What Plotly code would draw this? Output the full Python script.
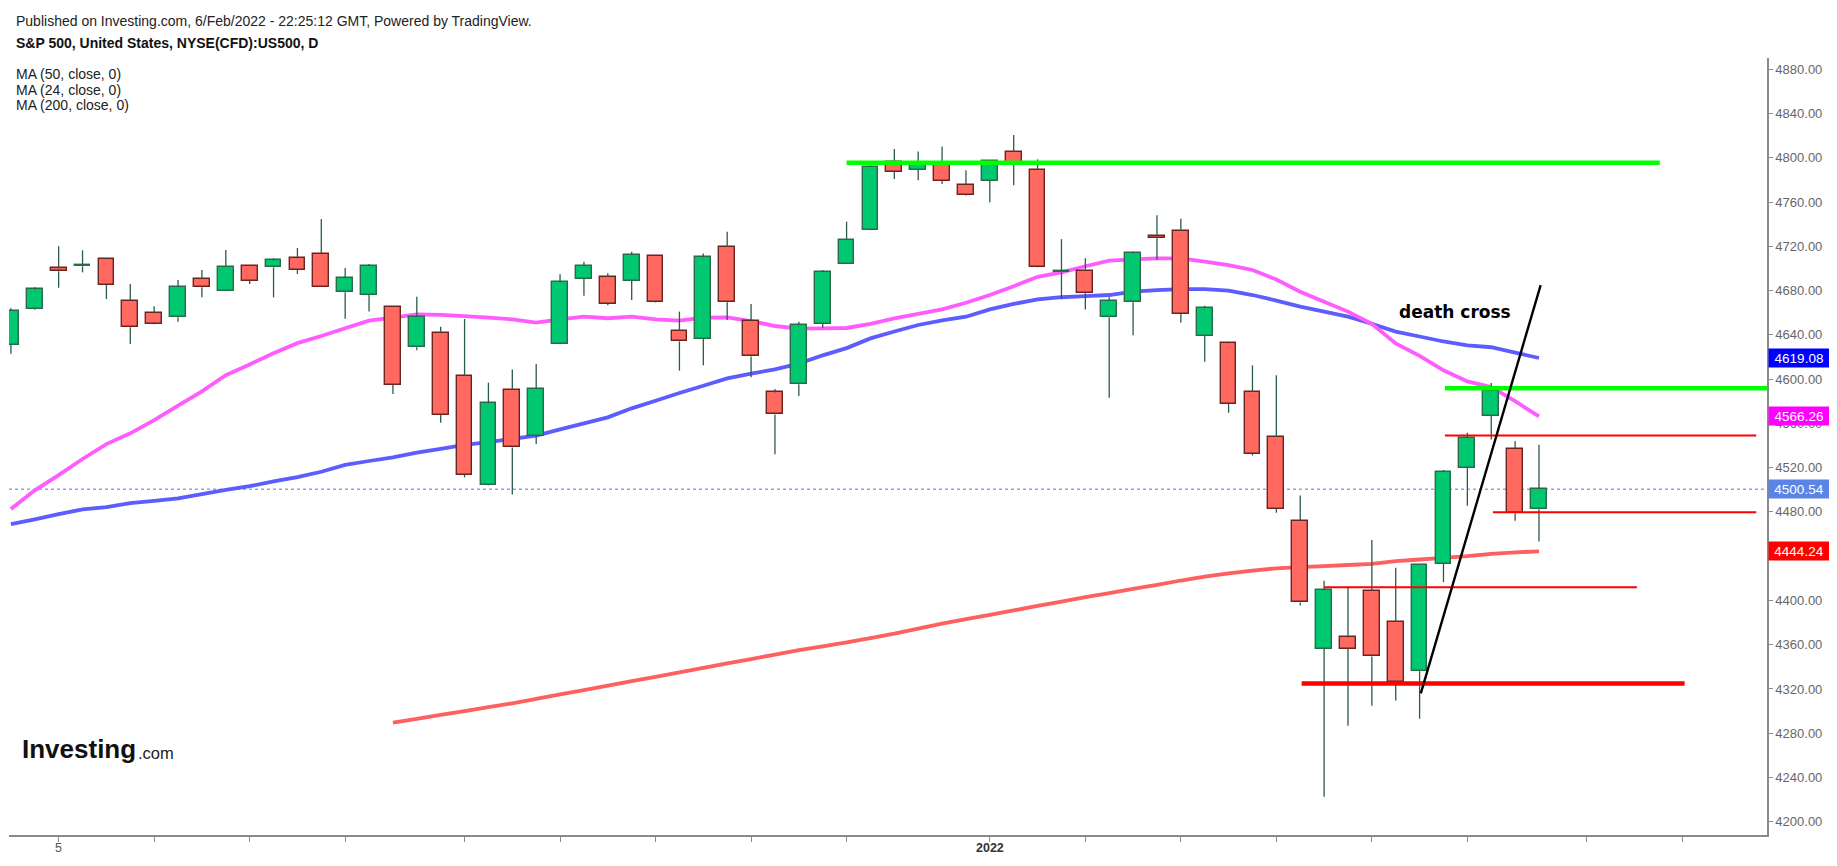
import plotly.graph_objects as go

# ---------------- data ----------------
idx = list(range(65))  # trading days, 3 Nov 2021 .. 4 Feb 2022

opens = [4631.0, 4663.6, 4700.0, 4702.0, 4708.2, 4670.9, 4659.4, 4655.8, 4690.2, 4679.6,
         4702.2, 4701.0, 4709.2, 4712.8, 4678.4, 4676.0, 4665.2, 4628.7, 4641.4, 4603.0,
         4504.3, 4590.5, 4548.3, 4632.0, 4690.8, 4692.3, 4688.7, 4711.3, 4643.5, 4636.5,
         4719.4, 4652.8, 4588.0, 4595.3, 4650.1, 4704.3, 4735.0, 4795.9, 4789.3, 4795.0,
         4775.7, 4779.3, 4805.0, 4789.3, 4696.5, 4697.7, 4655.8, 4669.4, 4729.6, 4733.9,
         4638.9, 4632.3, 4588.3, 4547.7, 4471.7, 4356.3, 4366.6, 4408.5, 4380.4, 4336.1,
         4433.1, 4520.0, 4567.0, 4537.1, 4482.3]
highs = [4664.0, 4683.0, 4720.0, 4716.4, 4709.2, 4686.0, 4665.8, 4689.6, 4698.6, 4716.7,
         4702.8, 4709.2, 4718.5, 4744.7, 4700.4, 4704.0, 4665.5, 4674.5, 4647.4, 4654.3,
         4596.8, 4608.8, 4613.6, 4694.7, 4706.1, 4695.6, 4715.2, 4712.0, 4661.0, 4713.6,
         4733.2, 4667.9, 4591.0, 4651.9, 4698.6, 4742.3, 4793.0, 4808.0, 4805.6, 4810.1,
         4788.7, 4797.5, 4820.6, 4798.6, 4726.5, 4709.2, 4673.9, 4715.2, 4748.0, 4745.0,
         4666.4, 4632.8, 4612.4, 4603.4, 4494.9, 4417.8, 4411.2, 4454.5, 4429.5, 4432.5,
         4517.9, 4551.5, 4596.4, 4544.0, 4540.7]
lows = [4623.0, 4662.7, 4682.6, 4696.5, 4672.4, 4631.7, 4649.5, 4651.9, 4673.9, 4679.3,
        4686.0, 4673.9, 4695.0, 4683.0, 4654.6, 4661.0, 4586.5, 4626.0, 4560.6, 4511.2,
        4504.0, 4495.8, 4541.3, 4631.5, 4675.4, 4666.7, 4671.5, 4669.0, 4607.6, 4612.5,
        4653.4, 4601.6, 4532.0, 4584.7, 4646.5, 4704.0, 4734.5, 4780.9, 4779.7, 4776.3,
        4766.0, 4759.8, 4775.1, 4701.0, 4672.5, 4663.0, 4583.2, 4639.6, 4707.6, 4651.0,
        4615.8, 4569.6, 4531.0, 4479.3, 4395.5, 4222.5, 4286.7, 4304.8, 4309.6, 4293.1,
        4416.6, 4485.5, 4545.5, 4472.0, 4453.2]
closes = [4661.5, 4681.0, 4697.4, 4702.6, 4685.0, 4646.8, 4649.8, 4683.2, 4683.0, 4701.3,
          4688.7, 4707.3, 4698.9, 4683.0, 4691.1, 4702.2, 4595.0, 4656.1, 4567.5, 4513.3,
          4578.1, 4538.3, 4591.3, 4687.5, 4702.2, 4668.2, 4712.5, 4669.4, 4634.1, 4710.2,
          4669.4, 4620.5, 4568.1, 4648.9, 4696.5, 4726.0, 4791.7, 4787.2, 4793.8, 4779.0,
          4766.4, 4797.1, 4793.8, 4701.3, 4698.0, 4677.5, 4670.9, 4713.7, 4727.2, 4659.1,
          4664.0, 4577.8, 4532.6, 4482.9, 4398.2, 4409.4, 4356.3, 4349.4, 4325.9, 4432.3,
          4516.4, 4547.0, 4589.5, 4478.7, 4500.54]

ma24 = [4482.6, 4499.5, 4513.3, 4527.8, 4541.3, 4551.0, 4563.0, 4576.0, 4589.0, 4603.5,
        4613.3, 4623.3, 4632.5, 4639.0, 4646.0, 4652.8, 4655.5, 4658.5, 4658.0, 4657.0,
        4655.5, 4654.0, 4651.0, 4654.0, 4656.4, 4655.0, 4656.4, 4654.0, 4652.8, 4655.5,
        4655.8, 4652.5, 4648.0, 4645.6, 4645.8, 4646.2, 4650.0, 4654.9, 4659.0, 4663.0,
        4669.0, 4676.0, 4684.0, 4692.5, 4696.5, 4702.0, 4707.0, 4708.2, 4709.1, 4709.1,
        4706.1, 4703.0, 4698.6, 4690.0, 4679.0, 4670.0, 4661.0, 4650.0, 4632.3, 4621.0,
        4608.0, 4597.9, 4592.8, 4580.0, 4566.26]
ma50 = [4469.0, 4473.3, 4478.0, 4482.3, 4484.4, 4488.0, 4490.0, 4492.2, 4496.0, 4499.8,
        4503.2, 4507.5, 4511.5, 4516.3, 4522.4, 4526.0, 4529.3, 4533.5, 4537.0, 4540.5,
        4543.0, 4546.0, 4549.0, 4554.5, 4560.0, 4565.4, 4573.6, 4580.5, 4587.5, 4594.0,
        4600.7, 4605.0, 4608.8, 4614.0, 4621.5, 4628.0, 4636.8, 4643.0, 4648.9, 4653.0,
        4656.4, 4663.0, 4668.0, 4672.0, 4674.0, 4675.0, 4676.0, 4679.0, 4680.5, 4681.4,
        4681.4, 4679.9, 4676.0, 4671.0, 4665.5, 4661.0, 4656.4, 4650.0, 4642.9, 4638.5,
        4634.0, 4630.5, 4628.8, 4624.0, 4619.08]
ma200 = [None] * 16 + [
        4289.5, 4293.0, 4296.5, 4300.0, 4303.5, 4307.0, 4311.0, 4315.0, 4319.0, 4323.0,
        4327.0, 4331.0, 4335.0, 4339.0, 4343.0, 4347.0, 4351.0, 4355.0, 4358.5, 4362.0,
        4366.0, 4370.0, 4374.5, 4379.0, 4383.0, 4387.0, 4391.0, 4395.0, 4399.0, 4403.0,
        4406.5, 4410.5, 4414.0, 4418.0, 4421.5, 4424.5, 4427.0, 4429.0, 4430.0, 4431.0,
        4432.0, 4433.0, 4435.5, 4437.0, 4438.5, 4440.0, 4442.0, 4443.5, 4444.24]

x_tick_idx = [2, 6, 10, 14, 19, 23, 27, 31, 35, 41, 45, 49, 53, 57, 61, 66, 70]
x_labels = [(2, '5', False), (41, '2022', True)]   # (tick index, text, bold)
y_ticks = list(range(4200, 4881, 40))
hidden_y_labels = [4440]  # fully covered by the MA(200) value box in the reference

last_price = 4500.54

# user drawings: (start idx, end idx, price, colour, width)
h_levels = [
    (35.0, 69.06, 4795.5, '#00ff00', 4.5),
    (60.06, 73.6, 4591.8, '#00ff00', 4.5),
    (54.06, 70.1, 4325.0, '#ff0000', 4.5),
    (55.0, 68.1, 4411.8, '#ff0000', 2),
    (60.06, 73.1, 4549.0, '#ff0000', 2),
    (62.07, 73.1, 4479.6, '#ff0000', 2),
]
trend_line = (59.05, 4316.0, 64.07, 4685.0)
cross_label = (60.5, 4661.0)

# ---------------- layout geometry ----------------
# The page body has an 8px margin, so the figure is drawn 16px smaller and
# everything is placed in reference-screen pixels relative to the plot box.
PAGE_MARGIN = 8
W, H = 1837 - 2 * PAGE_MARGIN, 866 - 2 * PAGE_MARGIN
PL, PR, PT, PB = 9, 1767, 58, 835        # plot box in reference-screen pixels
ML, MR = PL - PAGE_MARGIN, W - (PR - PAGE_MARGIN)
MT, MB = PT - PAGE_MARGIN, H - (PB - PAGE_MARGIN)


def px(x):
    return (x - PL) / (PR - PL)


def py(y):
    return (PB - y) / (PB - PT)


GREEN, RED = '#00c870', '#ff6960'
GREEN_EDGE, RED_EDGE = '#2a6b4a', '#6b2420'
WICK = '#2b5c44'

up = [c >= o for o, c in zip(opens, closes)]
base = [min(o, c) for o, c in zip(opens, closes)]
body = [max(abs(c - o), 0.7) for o, c in zip(opens, closes)]

wx, wy = [], []
for i, o, h, l, c in zip(idx, opens, highs, lows, closes):
    top, bot = max(o, c), min(o, c)
    if h > top:
        wx += [i, i, None]
        wy += [top, h, None]
    if l < bot:
        wx += [i, i, None]
        wy += [l, bot, None]

fig = go.Figure()
fig.add_trace(go.Scatter(x=wx, y=wy, mode='lines', line=dict(color=WICK, width=1.3),
                         hoverinfo='skip', showlegend=False))
fig.add_trace(go.Bar(x=idx, y=body, base=base, width=0.66,
                     marker=dict(color=[GREEN if u else RED for u in up],
                                 line=dict(color=[GREEN_EDGE if u else RED_EDGE for u in up], width=1.4)),
                     hoverinfo='skip', showlegend=False))


def path_of(xs, ys):
    pts = [f'{x},{y}' for x, y in zip(xs, ys) if y is not None]
    return 'M ' + ' L '.join(pts)


shapes = [
    dict(type='line', xref='paper', yref='y', x0=0, x1=1, y0=last_price, y1=last_price,
         line=dict(color='#4a7be6', width=1, dash='dot'), layer='below'),
    dict(type='path', xref='x', yref='y', path=path_of(idx, ma200),
         line=dict(color='#ff5f5f', width=3.8), layer='below'),
    dict(type='path', xref='x', yref='y', path=path_of(idx, ma50),
         line=dict(color='#5c5cff', width=3.8), layer='below'),
    dict(type='path', xref='x', yref='y', path=path_of(idx, ma24),
         line=dict(color='#ff5cff', width=3.8), layer='below'),
]
for x0, x1, p, col, w in h_levels:
    shapes.append(dict(type='line', xref='x', yref='y', x0=x0, x1=x1, y0=p, y1=p,
                       line=dict(color=col, width=w), layer='above'))
shapes.append(dict(type='line', xref='x', yref='y', x0=trend_line[0], y0=trend_line[1],
                   x1=trend_line[2], y1=trend_line[3], line=dict(color='#000000', width=2.4),
                   layer='above'))

TXT = 'Liberation Sans, Arial, sans-serif'
ann = []


def text(x, y, t, size=13, color='#222', family=TXT, **kw):
    ann.append(dict(xref='paper', yref='paper', x=px(x), y=py(y), text=t, showarrow=False,
                    xanchor=kw.pop('xanchor', 'left'), yanchor='middle',
                    font=dict(size=size, color=color, family=family), **kw))


text(14, 21, 'Published on Investing.com, 6/Feb/2022 - 22:25:12 GMT, Powered by TradingView.', size=14)
text(14, 43, '<b>S&amp;P 500, United States, NYSE(CFD):US500, D</b>', size=14, color='#111')
text(14, 73.5, 'MA (50, close, 0)', size=14)
text(14, 89.5, 'MA (24, close, 0)', size=14)
text(14, 105, 'MA (200, close, 0)', size=14)
text(20, 749, '<b>Investing</b>', size=26, color='#111')
text(136, 753, '.com', size=16.5, color='#222')

# x-axis labels (placed just under the tick marks)
for i, t, bold in x_labels:
    ann.append(dict(xref='x', yref='paper', x=i, y=py(848), text=f'<b>{t}</b>' if bold else t,
                    showarrow=False, xanchor='center', yanchor='middle',
                    font=dict(size=12.5, color='#333' if bold else '#555', family=TXT)))

ann.append(dict(xref='x', yref='y', x=cross_label[0], y=cross_label[1], text='<b>death cross</b>',
                showarrow=False, font=dict(size=17, color='#000', family='DejaVu Sans, Verdana, sans-serif')))

for val, bg in [(ma50[-1], '#0000ff'), (ma24[-1], '#ff00ff'), (last_price, '#5b84e6'), (ma200[-1], '#ff0000')]:
    ann.append(dict(xref='paper', yref='y', x=1.0005, y=val, text=f'{val:.2f}', showarrow=False,
                    xanchor='left', yanchor='middle', bgcolor=bg, width=58, height=16, borderpad=1,
                    align='center', font=dict(size=13.5, color='#ffffff', family=TXT)))

fig.update_layout(
    width=W, height=H, margin=dict(l=ML, r=MR, t=MT, b=MB, autoexpand=False),
    paper_bgcolor='white', plot_bgcolor='white', showlegend=False,
    shapes=shapes, annotations=ann, bargap=0, hovermode=False,
    xaxis=dict(range=[-0.08, 73.55], tickmode='array', tickvals=x_tick_idx, showticklabels=False,
               showgrid=False, zeroline=False, showline=True, linecolor='#8a8a8a', linewidth=1.5,
               ticks='outside', ticklen=5, tickcolor='#8a8a8a', automargin=False, fixedrange=True),
    yaxis=dict(range=[4188.0, 4890.2], side='right', tickmode='array', tickvals=y_ticks,
               ticktext=['' if v in hidden_y_labels else f'{v:.2f}' for v in y_ticks],
               showgrid=False, zeroline=False, automargin=False,
               showline=True, linecolor='#8a8a8a', linewidth=1.5, ticks='outside', ticklen=4,
               tickcolor='#8a8a8a', tickfont=dict(size=13, color='#666', family=TXT),
               fixedrange=True),
)

fig.write_html('out.html')
